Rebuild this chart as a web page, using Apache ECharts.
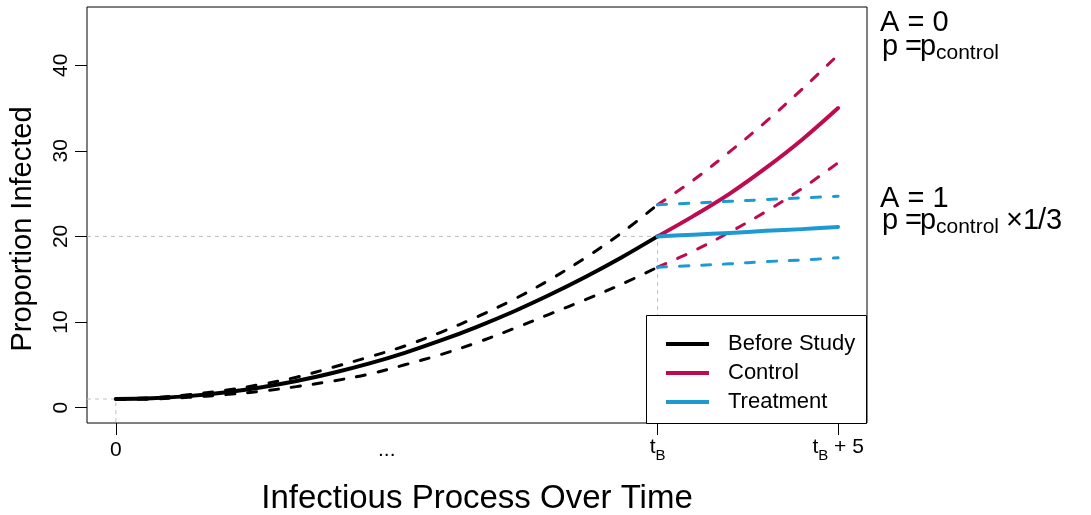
<!DOCTYPE html>
<html><head><meta charset="utf-8">
<script src="https://cdn.jsdelivr.net/npm/echarts@6/dist/echarts.min.js"></script>
<style>html,body{margin:0;padding:0;background:#fff}#c{width:1091px;height:515px}</style>
</head><body><div id="c"></div>
<script>
// ---- data ----
const tB = 15;
const timeBefore = [0,1,2,3,4,5,6,7,8,9,10,11,12,13,14,15];
const beforeMid   = [1.00,1.08,1.34,1.76,2.35,3.10,4.04,5.13,6.40,7.84,9.44,11.20,13.15,15.26,17.54,20.00];
const beforeUpper = [1.05,1.15,1.50,2.00,2.70,3.55,4.70,5.90,7.20,8.80,10.60,12.60,14.90,17.50,20.40,23.70];
const beforeLower = [0.95,1.00,1.20,1.50,1.90,2.45,3.10,3.90,5.00,6.20,7.60,9.20,10.90,12.60,14.40,16.40];
const timeStudy = [15,16,17,18,19,20];
const controlMid   = [20.0,22.4,25.0,28.0,31.3,35.0];
const controlUpper = [23.7,26.6,29.9,33.4,37.2,41.2];
const controlLower = [16.4,18.3,20.5,22.9,25.6,28.6];
const treatMid   = [20.0,20.2,20.4,20.65,20.85,21.1];
const treatUpper = [23.7,23.9,24.1,24.3,24.5,24.7];
const treatLower = [16.4,16.6,16.8,17.05,17.25,17.5];
const xTickValues = [0,7.5,15,20];
const xTickLabels = ['0','...','{t|t}{s|B}','{t|t}{s|B}{t| + 5}'];
const xTickMarks = [0,15,20];
const yTickValues = [0,10,20,30,40];
const seriesNames = ['Before Study','Control','Treatment'];
const xRange = [-0.8, 20.8];
const yRange = [-1.8, 46.8];

// ---- styles ----
const FONT = '"Liberation Sans", Arial, Helvetica, sans-serif';
const BLACK = '#000000', CRIMSON = '#BE0A4F', BLUE = '#1E9AD2', GREY = '#BFBFBF';
const zip = (xs, ys) => xs.map((x, i) => [x, ys[i]]);
const line = (name, xs, ys, color, dashed, z) => ({
  name, type: 'line', data: zip(xs, ys), showSymbol: false, symbol: 'none',
  smooth: 0.35, color, z, silent: true,
  lineStyle: { color, width: dashed ? 3 : 4, type: dashed ? [9, 13] : 'solid', cap: 'round', join: 'round' }
});
const startY = beforeMid[0], endY = beforeMid[beforeMid.length - 1];
const txt = (x, y, text, size) => ({ type: 'text', x, y, z: 100,
  style: { text, font: size + 'px ' + FONT, fill: '#000', verticalAlign: 'top' } });

const chart = echarts.init(document.getElementById('c'), null, { renderer: 'canvas' });
chart.setOption({
  animation: false,
  backgroundColor: '#fff',
  textStyle: { fontFamily: FONT },
  grid: { left: 87, top: 7, width: 780, height: 416, show: true, borderColor: '#000', borderWidth: 1,
          backgroundColor: 'transparent', containLabel: false, outerBoundsMode: 'none' },
  xAxis: {
    type: 'value', min: xRange[0], max: xRange[1],
    axisLine: { show: false, onZero: false }, splitLine: { show: false },
    axisTick: { show: true, customValues: xTickMarks, length: 12, lineStyle: { color: '#000', width: 1 } },
    axisLabel: {
      customValues: xTickValues, margin: 27, verticalAlign: 'middle', color: '#000', fontSize: 21, fontFamily: FONT,
      formatter: v => xTickLabels[xTickValues.indexOf(v)],
      rich: {
        t: { fontSize: 21, fontFamily: FONT, color: '#000', verticalAlign: 'top', padding: [0, 0, 6, 0] },
        s: { fontSize: 15, fontFamily: FONT, color: '#000', verticalAlign: 'bottom' }
      }
    },
    name: 'Infectious Process Over Time', nameLocation: 'middle', nameGap: 59,
    nameTextStyle: { fontSize: 33, color: '#000', fontFamily: FONT }
  },
  yAxis: {
    type: 'value', min: yRange[0], max: yRange[1],
    axisLine: { show: false, onZero: false }, splitLine: { show: false },
    axisTick: { show: true, customValues: yTickValues, length: 12, lineStyle: { color: '#000', width: 1 } },
    axisLabel: { customValues: yTickValues, rotate: 90, margin: 15, color: '#000', fontSize: 21, fontFamily: FONT },
    name: 'Proportion Infected', nameLocation: 'middle', nameRotate: 90, nameGap: 50,
    nameTextStyle: { fontSize: 29, color: '#000', fontFamily: FONT, padding: [0, 28, 0, 0] }
  },
  legend: {
    data: seriesNames, orient: 'vertical', left: 666, top: 333, padding: 0, z: 60,
    itemWidth: 43, itemHeight: 4, itemGap: 7, icon: 'rect', selectedMode: false,
    textStyle: { fontSize: 22, color: '#000', fontFamily: FONT, lineHeight: 20, padding: [0, 0, 0, 14] }
  },
  series: [
    { name: 'ref0', type: 'line', data: [[xRange[0], startY], [timeBefore[0], startY], [timeBefore[0], yRange[0]]],
      symbol: 'none', z: 1, silent: true, lineStyle: { color: GREY, width: 1, type: [4, 4] } },
    { name: 'refB', type: 'line', data: [[xRange[0], endY], [tB, endY], [tB, yRange[0]]],
      symbol: 'none', z: 1, silent: true, lineStyle: { color: GREY, width: 1, type: [4, 4] } },
    line('Before Study', timeBefore, beforeMid, BLACK, false, 3),
    line('Before upper', timeBefore, beforeUpper, BLACK, true, 3),
    line('Before lower', timeBefore, beforeLower, BLACK, true, 3),
    line('Control upper', timeStudy, controlUpper, CRIMSON, true, 4),
    line('Control lower', timeStudy, controlLower, CRIMSON, true, 4),
    line('Control', timeStudy, controlMid, CRIMSON, false, 4),
    line('Treatment upper', timeStudy, treatUpper, BLUE, true, 5),
    line('Treatment lower', timeStudy, treatLower, BLUE, true, 5),
    line('Treatment', timeStudy, treatMid, BLUE, false, 5)
  ],
  graphic: [
    { type: 'rect', shape: { x: 646.5, y: 315.5, width: 220, height: 108 }, style: { fill: '#fff', stroke: '#000', lineWidth: 1 }, z: 50, silent: true },
    txt(880, 8, 'A = 0', 29),
    txt(882, 32, 'p', 29), txt(905, 32, '=', 29), txt(920, 32, 'p', 29), txt(936, 43, 'control', 21),
    txt(880, 184, 'A = 1', 29),
    txt(882, 206, 'p', 29), txt(905, 206, '=', 29), txt(920, 206, 'p', 29), txt(936, 217, 'control', 21),
    txt(1006, 206, '\u00d7', 29), txt(1023, 206, '1', 29), txt(1038, 206, '/', 29), txt(1046, 206, '3', 29)
  ]
});
</script>
</body></html>
